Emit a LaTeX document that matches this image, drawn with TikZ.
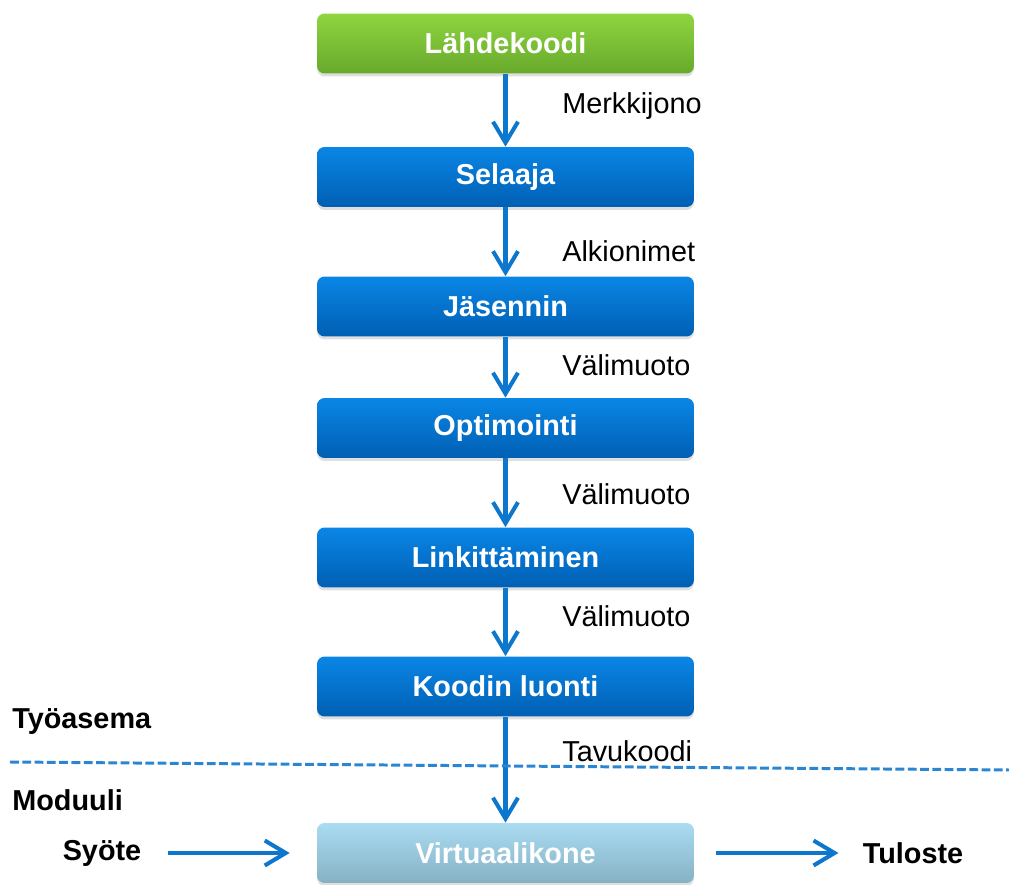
\documentclass[tikz,border=0pt]{standalone}
\usepackage{fontspec}
\setmainfont{Liberation Sans}
\usetikzlibrary{arrows.meta, shadows}

\definecolor{flowblue}{HTML}{0C77CC}
\definecolor{greentop}{HTML}{8ED540}
\definecolor{greenbot}{HTML}{68A92C}
\definecolor{bluetop}{HTML}{0A86E6}
\definecolor{bluebot}{HTML}{005FB3}
\definecolor{vmtop}{HTML}{AADCF2}
\definecolor{vmbot}{HTML}{86B1C4}
\definecolor{dashblue}{HTML}{2A86D2}

\begin{document}
\begin{tikzpicture}[
    x=0.02cm, y=-0.02cm,
    box/.style={rectangle, rounded corners=0.15cm, minimum width=7.54cm, minimum height=1.2cm,
                align=center, text=white, font=\fontsize{16.4}{19}\selectfont\bfseries,
                top color=bluetop, bottom color=bluebot,
                drop shadow={opacity=0.25, shadow xshift=0pt, shadow yshift=-0.06cm}},
    source/.style={box, top color=greentop, bottom color=greenbot},
    vmbox/.style={box, top color=vmtop, bottom color=vmbot},
    lbl/.style={font=\fontsize{16.4}{19}\selectfont, anchor=west, inner sep=0pt},
    side/.style={font=\fontsize{16.4}{19}\selectfont\bfseries, inner sep=0pt},
    arrow/.style={-{Straight Barb[length=0.42cm, width=0.5cm]}, draw=flowblue, line width=2.3pt}
]
    \useasboundingbox (0,0) rectangle (1009,885);

    % Compiler chain
    \node[source] (src)   at (505.5,43.5)  {Lähdekoodi};
    \node[box]    (lex)   at (505.5,177)   {Selaaja};
    \node[box]    (parse) at (505.5,306.5) {Jäsennin};
    \node[box]    (opt)   at (505.5,428)   {Optimointi};
    \node[box]    (link)  at (505.5,557.5) {Linkittäminen};
    \node[box]    (gen)   at (505.5,686.5) {Koodin luonti};
    \node[vmbox]  (vm)    at (505.5,853)   {Virtuaalikone};

    \draw[arrow] (src)   -- (lex);
    \draw[arrow] (lex)   -- (parse);
    \draw[arrow] (parse) -- (opt);
    \draw[arrow] (opt)   -- (link);
    \draw[arrow] (link)  -- (gen);
    \draw[arrow] (gen)   -- (vm);

    \node[lbl] (l1) at (562,106) {Merkkijono};
    \node[lbl] (l2) at (562,251) {Alkionimet};
    \node[lbl] (l3) at (562,365) {Välimuoto};
    \node[lbl] (l4) at (562,494) {Välimuoto};
    \node[lbl] (l5) at (562,616) {Välimuoto};
    \node[lbl] (l6) at (562,751) {Tavukoodi};

    % Workstation / module boundary
    \node[side, anchor=west] (ws)  at (12,722) {Työasema};
    \node[side, anchor=west] (mod) at (12,800) {Moduuli};
    \coordinate (dl) at (10,762);
    \coordinate (dr) at (1009,770);
    \draw[dashblue, line width=1.7pt, dash pattern=on 5pt off 2pt] (dl) -- (dr);

    % Input and output
    \node[side] (in)  at (102,853) {Syöte};
    \node[side] (out) at (913,853) {Tuloste};
    \draw[arrow, shorten <=0.52cm, shorten >=0.54cm] (in) -- (vm);
    \draw[arrow, shorten <=0.44cm, shorten >=0.48cm] (vm) -- (out);
\end{tikzpicture}
\end{document}
